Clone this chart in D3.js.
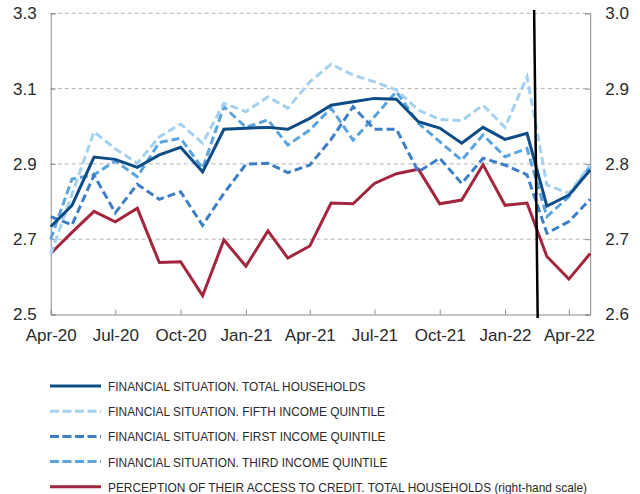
<!DOCTYPE html>
<html>
<head>
<meta charset="utf-8">
<script src="https://cdn.jsdelivr.net/npm/d3@7"></script>
<style>
  html, body { margin: 0; padding: 0; background: #fff; }
  svg { display: block; }
</style>
</head>
<body>
<svg id="chart" width="640" height="494"></svg>
<script>
// monthly observations, Apr-20 .. May-22
const months = [
  '2020-04', '2020-05', '2020-06', '2020-07', '2020-08', '2020-09', '2020-10',
  '2020-11', '2020-12', '2021-01', '2021-02', '2021-03', '2021-04', '2021-05',
  '2021-06', '2021-07', '2021-08', '2021-09', '2021-10', '2021-11', '2021-12',
  '2022-01', '2022-02', '2022-03', '2022-04', '2022-05'
]

const totalHouseholds = [2.733, 2.79, 2.918, 2.912, 2.891, 2.924, 2.944, 2.879, 2.992, 2.995, 2.997, 2.992, 3.021,
  3.056, 3.065, 3.074, 3.072, 3.012, 2.995, 2.955, 2.997, 2.965, 2.981, 2.788, 2.817, 2.884]
const fifthQuintile = [2.66, 2.82, 2.985, 2.94, 2.902, 2.972, 3.006, 2.955, 3.061, 3.039, 3.078, 3.048, 3.118,
  3.165, 3.136, 3.118, 3.096, 3.043, 3.018, 3.015, 3.056, 2.997, 3.132, 2.844, 2.822, 2.897]
const firstQuintile = [2.76, 2.738, 2.87, 2.77, 2.846, 2.806, 2.826, 2.737, 2.822, 2.899, 2.902, 2.877, 2.897,
  2.965, 3.052, 2.992, 2.992, 2.879, 2.915, 2.848, 2.915, 2.897, 2.871, 2.716, 2.747, 2.806]
const thirdQuintile = [2.70, 2.86, 2.871, 2.908, 2.866, 2.957, 2.968, 2.888, 3.052, 2.997, 3.017, 2.95, 2.99,
  3.048, 2.963, 3.025, 3.092, 3.008, 2.959, 2.91, 2.977, 2.919, 2.941, 2.76, 2.813, 2.894]
// right-hand scale
const creditAccess = [2.681, 2.709, 2.737, 2.723, 2.741, 2.669, 2.670, 2.625, 2.699, 2.664, 2.711, 2.675, 2.691,
  2.748, 2.747, 2.774, 2.787, 2.793, 2.747, 2.752, 2.799, 2.745, 2.748, 2.677, 2.647, 2.681]

const leftTicks = [2.5, 2.7, 2.9, 3.1, 3.3]
const rightTicks = [2.6, 2.7, 2.8, 2.9, 3.0]
const xTickMonths = ['2020-04', '2020-07', '2020-10', '2021-01', '2021-04', '2021-07', '2021-10', '2022-01', '2022-04']
const markerDates = ['2022-02-11', '2022-02-16'] // vertical line, top and bottom

const series = [
  { name: 'FINANCIAL SITUATION. TOTAL HOUSEHOLDS', values: totalHouseholds, color: '#0e4c86', dash: null, axis: 'left' },
  { name: 'FINANCIAL SITUATION. FIFTH INCOME QUINTILE', values: fifthQuintile, color: '#a5d1f1', dash: '8,4', axis: 'left' },
  { name: 'FINANCIAL SITUATION. FIRST INCOME QUINTILE', values: firstQuintile, color: '#3d7ec6', dash: '8,4', axis: 'left' },
  { name: 'FINANCIAL SITUATION. THIRD INCOME QUINTILE', values: thirdQuintile, color: '#5aa3dd', dash: '8,4', axis: 'left' },
  { name: 'PERCEPTION OF THEIR ACCESS TO CREDIT. TOTAL HOUSEHOLDS (right-hand scale)', values: creditAccess, color: '#a3263f', dash: null, axis: 'right' }
]

const width = 640
const height = 494
const marginLeft = 50.7
const marginRight = 49.8
const marginTop = 13.3
const plotBottom = 314.5

const parseMonth = d3.timeParse('%Y-%m')
const parseDay = d3.timeParse('%Y-%m-%d')
const dates = months.map(parseMonth)

const svg = d3.select('#chart')
const fontMain = "'Liberation Sans', Arial, Helvetica, sans-serif"

svg.append('rect')
    .attr('width', width)
    .attr('height', height)
    .attr('fill', '#fff')

const xScale = d3.scaleTime()
    .domain(d3.extent(dates))
    .range([marginLeft, width - marginRight])

const yLeft = d3.scaleLinear()
    .domain([2.5, 3.3])
    .range([plotBottom, marginTop])

const yRight = d3.scaleLinear()
    .domain([2.6, 3.0])
    .range([plotBottom, marginTop])

// gridlines
svg.append('g')
  .selectAll('line')
  .data(leftTicks.slice(1))
  .join('line')
    .attr('x1', marginLeft)
    .attr('x2', width - marginRight)
    .attr('y1', d => yLeft(d))
    .attr('y2', d => yLeft(d))
    .attr('stroke', '#b4b4b4')
    .attr('stroke-width', 1)
    .attr('stroke-dasharray', '4,3')

// left axis
const leftAxis = svg.append('g')
    .attr('transform', `translate(${marginLeft},0)`)
    .call(d3.axisLeft(yLeft).tickValues(leftTicks).tickFormat(d3.format('.1f')).tickSize(-5).tickPadding(14))
leftAxis.select('.domain').attr('stroke', '#8c8c8c')
leftAxis.selectAll('.tick line').attr('stroke', '#8c8c8c')
leftAxis.selectAll('text')
    .attr('font-family', fontMain)
    .attr('font-size', 17)
    .attr('fill', '#2a2a2a')

// right axis
const rightAxis = svg.append('g')
    .attr('transform', `translate(${width - marginRight},0)`)
    .call(d3.axisRight(yRight).tickValues(rightTicks).tickFormat(d3.format('.1f')).tickSize(-5).tickPadding(15))
rightAxis.select('.domain').attr('stroke', '#8c8c8c')
rightAxis.selectAll('.tick line').attr('stroke', '#8c8c8c')
rightAxis.selectAll('text')
    .attr('font-family', fontMain)
    .attr('font-size', 17)
    .attr('fill', '#2a2a2a')

// bottom axis
const xAxis = svg.append('g')
    .attr('transform', `translate(0,${plotBottom})`)
    .call(d3.axisBottom(xScale)
      .tickValues(xTickMonths.map(parseMonth))
      .tickFormat(d3.timeFormat('%b-%y'))
      .tickSize(-5)
      .tickSizeOuter(0)
      .tickPadding(14))
xAxis.select('.domain').attr('stroke', '#8c8c8c')
xAxis.selectAll('.tick line').attr('stroke', '#8c8c8c')
xAxis.selectAll('text')
    .attr('font-family', fontMain)
    .attr('font-size', 17)
    .attr('fill', '#2a2a2a')

// lines
const lineFor = s => d3.line()
    .x((d, i) => xScale(dates[i]))
    .y(d => (s.axis === 'left' ? yLeft(d) : yRight(d)))

const drawOrder = [4, 3, 2, 1, 0]
svg.append('g')
  .selectAll('path')
  .data(drawOrder.map(i => series[i]))
  .join('path')
    .attr('d', s => lineFor(s)(s.values))
    .attr('fill', 'none')
    .attr('stroke', s => s.color)
    .attr('stroke-width', 3)
    .attr('stroke-dasharray', s => s.dash)
    .attr('stroke-linejoin', 'miter')

// vertical marker line
const markers = markerDates.map(parseDay)
svg.append('line')
    .attr('x1', xScale(markers[0]))
    .attr('x2', xScale(markers[1]))
    .attr('y1', 10)
    .attr('y2', 318)
    .attr('stroke', '#000')
    .attr('stroke-width', 2.5)

// legend
const legend = svg.append('g')
    .attr('transform', 'translate(50,386)')

const legendRows = legend.selectAll('g')
  .data(series)
  .join('g')
    .attr('transform', (d, i) => `translate(0,${i * 25.2})`)

legendRows.append('line')
    .attr('x1', 0)
    .attr('x2', 51)
    .attr('stroke', d => d.color)
    .attr('stroke-width', 3)
    .attr('stroke-dasharray', d => (d.dash ? '9,3.5' : null))

// condensed look: compress regular sans so the longest label spans like the original
const legendTexts = legendRows.append('text')
    .attr('x', 58)
    .attr('y', 5)
    .attr('font-family', fontMain)
    .attr('font-size', 13)
    .attr('fill', '#2a2a2a')
    .text(d => d.name)

const natural = legendTexts.nodes().map(n => n.getComputedTextLength())
const squeeze = Math.min(1, 479 / d3.max(natural))
legendTexts
    .attr('textLength', (d, i) => natural[i] * squeeze)
    .attr('lengthAdjust', 'spacingAndGlyphs')
</script>
</body>
</html>
